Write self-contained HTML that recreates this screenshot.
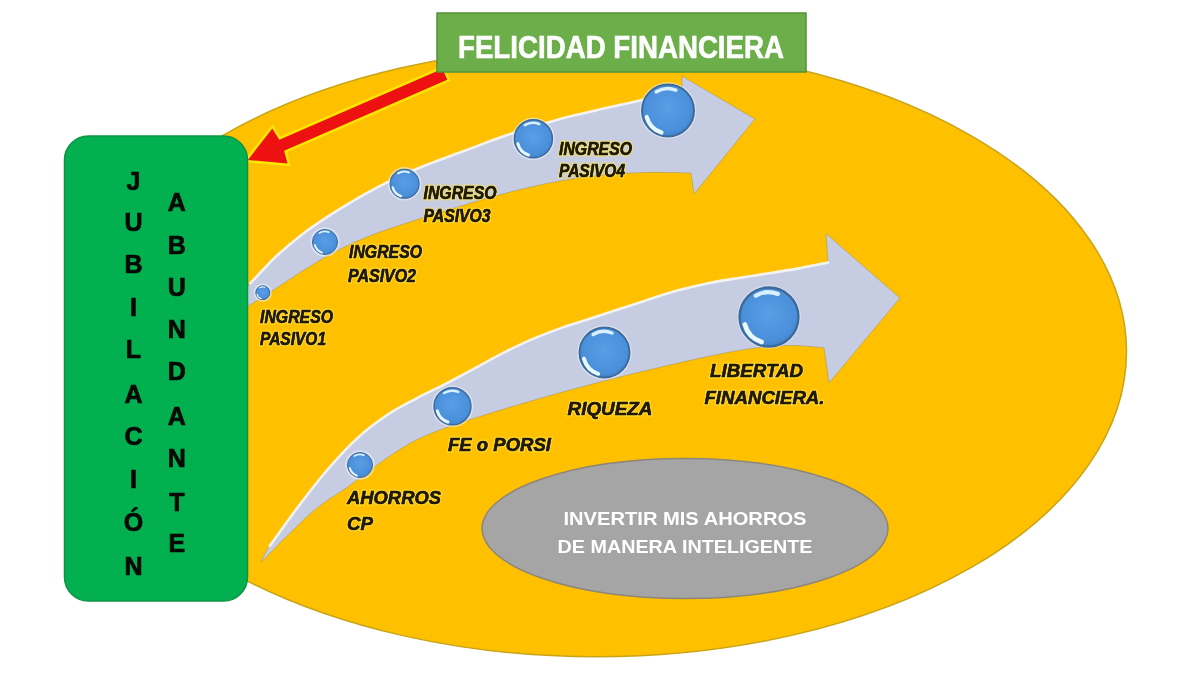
<!DOCTYPE html>
<html><head><meta charset="utf-8"><style>
html,body{margin:0;padding:0;background:#fff;width:1200px;height:681px;overflow:hidden}
svg{display:block;filter:blur(0.6px)}
text{font-family:"Liberation Sans",sans-serif}
.lab{font-weight:bold;font-style:italic;fill:#201a08;stroke:#ffe64a;stroke-width:3px;paint-order:stroke;stroke-opacity:0.6}
.lab2{font-weight:bold;font-style:italic;fill:#201a08;stroke:#201a08;stroke-width:0.5px}
.vt{font-weight:bold;font-size:25px;fill:#050805;stroke:#050805;stroke-width:0.7px;text-anchor:middle}
</style></head><body>
<svg width="1200" height="681" viewBox="0 0 1200 681">
<defs>
<radialGradient id="sph" cx="0.5" cy="0.45" r="0.6">
<stop offset="0" stop-color="#5a9ee6"/><stop offset="0.75" stop-color="#4a8fda"/><stop offset="1" stop-color="#3c7cc4"/>
</radialGradient>
</defs>
<rect width="1200" height="681" fill="#fff"/>
<ellipse cx="596.7" cy="351.6" rx="529.8" ry="305.2" fill="#ffc000" stroke="#c9a418" stroke-width="1.5"/>
<path d="M215.0,325.0 C220.9,318.1 240.2,294.7 250.3,283.4 C260.4,272.0 267.2,264.9 275.7,256.8 C284.2,248.8 292.6,241.7 301.1,235.2 C309.6,228.6 318.0,223.0 326.5,217.4 C334.9,211.9 343.4,206.6 351.9,201.6 C360.3,196.6 368.8,191.8 377.3,187.4 C385.7,182.9 394.2,178.8 402.7,174.9 C411.1,171.0 419.6,167.6 428.1,164.2 C436.5,160.9 445.0,157.9 453.5,154.8 C461.9,151.7 470.4,148.5 478.8,145.4 C487.3,142.2 495.8,139.0 504.2,136.1 C512.7,133.1 521.2,130.3 529.6,127.7 C538.1,125.1 546.6,122.7 555.0,120.4 C563.5,118.1 572.0,116.0 580.4,113.9 C588.9,111.9 597.4,109.9 605.8,108.0 C614.3,106.1 622.7,104.3 631.2,102.4 C639.7,100.5 648.1,98.7 656.6,96.8 C665.1,94.9 677.8,92.0 682.0,91.0 L682.0,76.0 L755.0,119.0 L694.0,194.0 L691.0,173.1 C686.7,173.0 673.7,172.4 665.1,172.4 C656.4,172.3 647.8,172.4 639.2,172.7 C630.5,173.0 621.9,173.4 613.2,174.1 C604.6,174.8 595.9,175.6 587.3,176.7 C578.7,177.8 570.0,179.1 561.4,180.7 C552.7,182.2 544.1,183.9 535.5,185.9 C526.8,187.8 518.2,189.9 509.5,192.2 C500.9,194.4 492.3,196.9 483.6,199.3 C475.0,201.8 466.3,204.4 457.7,207.1 C449.0,209.7 440.4,212.4 431.8,215.1 C423.1,217.8 414.5,220.4 405.8,223.3 C397.2,226.1 388.6,228.9 379.9,232.1 C371.3,235.3 362.6,238.7 354.0,242.5 C345.4,246.4 336.7,250.7 328.1,255.4 C319.4,260.2 310.8,265.7 302.1,271.2 C293.5,276.7 284.9,282.7 276.2,288.3 C267.6,293.9 260.5,298.7 250.3,304.8 C240.1,310.9 220.9,321.6 215.0,325.0 Z" fill="#c6cde2" stroke="#9a8a50" stroke-width="1" stroke-opacity="0.45"/>
<path d="M250.3,283.4 C254.5,278.9 267.2,264.9 275.7,256.8 C284.2,248.8 292.6,241.7 301.1,235.2 C309.6,228.6 318.0,223.0 326.5,217.4 C334.9,211.9 343.4,206.6 351.9,201.6 C360.3,196.6 368.8,191.8 377.3,187.4 C385.7,182.9 394.2,178.8 402.7,174.9 C411.1,171.0 419.6,167.6 428.1,164.2 C436.5,160.9 445.0,157.9 453.5,154.8 C461.9,151.7 470.4,148.5 478.8,145.4 C487.3,142.2 495.8,139.0 504.2,136.1 C512.7,133.1 521.2,130.3 529.6,127.7 C538.1,125.1 546.6,122.7 555.0,120.4 C563.5,118.1 572.0,116.0 580.4,113.9 C588.9,111.9 597.4,109.9 605.8,108.0 C614.3,106.1 622.7,104.3 631.2,102.4 C639.7,100.5 648.1,98.7 656.6,96.8 C665.1,94.9 677.8,92.0 682.0,91.0" fill="none" stroke="#f8f9fc" stroke-width="2.6" stroke-opacity="0.9" stroke-linecap="round"/>
<path d="M261.0,562.5 C262.4,559.7 263.4,555.4 269.7,545.9 C276.0,536.4 289.3,518.4 299.1,505.5 C308.9,492.6 318.7,479.8 328.5,468.5 C338.3,457.2 348.1,446.5 357.9,437.6 C367.6,428.7 377.4,421.5 387.2,415.0 C397.0,408.4 406.8,403.6 416.6,398.3 C426.4,393.1 436.2,388.7 446.0,383.6 C455.8,378.5 465.6,373.1 475.4,367.8 C485.2,362.6 495.0,357.0 504.8,352.1 C514.6,347.2 524.4,342.5 534.2,338.4 C544.0,334.2 553.7,330.6 563.5,327.1 C573.3,323.7 583.1,320.9 592.9,317.7 C602.7,314.6 612.5,311.4 622.3,308.1 C632.1,304.9 641.9,301.5 651.7,298.4 C661.5,295.3 671.3,292.2 681.1,289.6 C690.9,287.0 700.7,284.8 710.5,282.8 C720.3,280.8 730.1,279.3 739.8,277.7 C749.6,276.1 759.4,274.7 769.2,273.2 C779.0,271.6 788.8,270.2 798.6,268.4 C808.4,266.6 823.1,263.4 828.0,262.5 L826.0,233.5 L900.0,298.0 L829.0,383.0 L824.0,347.7 C818.7,347.4 802.8,345.6 792.3,345.5 C781.7,345.5 771.1,346.3 760.5,347.4 C749.9,348.5 739.4,350.3 728.8,352.2 C718.2,354.1 707.6,356.5 697.0,358.8 C686.5,361.1 675.9,363.5 665.3,366.0 C654.7,368.5 644.1,371.0 633.6,373.6 C623.0,376.2 612.4,378.9 601.8,381.6 C591.2,384.3 580.7,387.1 570.1,390.0 C559.5,392.9 548.9,395.8 538.3,398.9 C527.7,401.9 517.2,405.0 506.6,408.2 C496.0,411.4 485.4,414.7 474.8,418.1 C464.3,421.5 453.7,424.6 443.1,428.7 C432.5,432.7 421.9,436.7 411.4,442.5 C400.8,448.2 390.2,455.8 379.6,463.2 C369.0,470.6 358.5,479.2 347.9,486.8 C337.3,494.4 326.7,500.1 316.1,508.7 C305.6,517.3 293.6,529.6 284.4,538.6 C275.2,547.5 264.9,558.5 261.0,562.5 Z" fill="#c6cde2" stroke="#9a8a50" stroke-width="1" stroke-opacity="0.45"/>
<path d="M269.7,545.9 C274.6,539.2 289.3,518.4 299.1,505.5 C308.9,492.6 318.7,479.8 328.5,468.5 C338.3,457.2 348.1,446.5 357.9,437.6 C367.6,428.7 377.4,421.5 387.2,415.0 C397.0,408.4 406.8,403.6 416.6,398.3 C426.4,393.1 436.2,388.7 446.0,383.6 C455.8,378.5 465.6,373.1 475.4,367.8 C485.2,362.6 495.0,357.0 504.8,352.1 C514.6,347.2 524.4,342.5 534.2,338.4 C544.0,334.2 553.7,330.6 563.5,327.1 C573.3,323.7 583.1,320.9 592.9,317.7 C602.7,314.6 612.5,311.4 622.3,308.1 C632.1,304.9 641.9,301.5 651.7,298.4 C661.5,295.3 671.3,292.2 681.1,289.6 C690.9,287.0 700.7,284.8 710.5,282.8 C720.3,280.8 730.1,279.3 739.8,277.7 C749.6,276.1 759.4,274.7 769.2,273.2 C779.0,271.6 788.8,270.2 798.6,268.4 C808.4,266.6 823.1,263.4 828.0,262.5" fill="none" stroke="#f8f9fc" stroke-width="2.6" stroke-opacity="0.9" stroke-linecap="round"/>
<circle cx="262.8" cy="292.7" r="9.2" fill="#eef3fb" opacity="0.55"/>
<circle cx="262.8" cy="292.7" r="7" fill="url(#sph)" stroke="#3d6a98" stroke-width="1.0"/>
<path d="M259.7,287.7 A6.0,6.0 0 0 1 264.9,287.2" stroke="#d8f0ff" stroke-width="1.2" fill="none" stroke-linecap="round"/>
<path d="M257.1,294.4 A6.0,6.0 0 0 0 261.1,298.6" stroke="#e8f8ff" stroke-width="1.2" fill="none" stroke-linecap="round"/>
<circle cx="325" cy="242" r="14.7" fill="#eef3fb" opacity="0.55"/>
<circle cx="325" cy="242" r="12.5" fill="url(#sph)" stroke="#3d6a98" stroke-width="1.0"/>
<path d="M319.4,233.0 A10.6,10.6 0 0 1 328.8,232.2" stroke="#d8f0ff" stroke-width="1.8" fill="none" stroke-linecap="round"/>
<path d="M314.8,245.1 A10.8,10.8 0 0 0 321.9,252.6" stroke="#e8f8ff" stroke-width="2.0" fill="none" stroke-linecap="round"/>
<circle cx="404.6" cy="183.8" r="16.7" fill="#eef3fb" opacity="0.55"/>
<circle cx="404.6" cy="183.8" r="14.5" fill="url(#sph)" stroke="#3d6a98" stroke-width="1.1"/>
<path d="M398.1,173.4 A12.3,12.3 0 0 1 409.0,172.5" stroke="#d8f0ff" stroke-width="2.0" fill="none" stroke-linecap="round"/>
<path d="M392.7,187.4 A12.5,12.5 0 0 0 401.0,196.1" stroke="#e8f8ff" stroke-width="2.3" fill="none" stroke-linecap="round"/>
<circle cx="533.4" cy="138.8" r="21.2" fill="#eef3fb" opacity="0.55"/>
<circle cx="533.4" cy="138.8" r="19" fill="url(#sph)" stroke="#3d6a98" stroke-width="1.5"/>
<path d="M524.9,125.1 A16.1,16.1 0 0 1 539.1,124.0" stroke="#d8f0ff" stroke-width="2.7" fill="none" stroke-linecap="round"/>
<path d="M517.8,143.6 A16.3,16.3 0 0 0 528.6,155.0" stroke="#e8f8ff" stroke-width="3.0" fill="none" stroke-linecap="round"/>
<circle cx="668" cy="110.5" r="28.2" fill="#eef3fb" opacity="0.55"/>
<circle cx="668" cy="110.5" r="26" fill="url(#sph)" stroke="#3d6a98" stroke-width="2.0"/>
<path d="M656.3,91.8 A22.1,22.1 0 0 1 675.8,90.2" stroke="#d8f0ff" stroke-width="3.6" fill="none" stroke-linecap="round"/>
<path d="M646.7,117.0 A22.4,22.4 0 0 0 661.5,132.6" stroke="#e8f8ff" stroke-width="4.2" fill="none" stroke-linecap="round"/>
<circle cx="360" cy="465" r="14.7" fill="#eef3fb" opacity="0.55"/>
<circle cx="360" cy="465" r="12.5" fill="url(#sph)" stroke="#3d6a98" stroke-width="1.0"/>
<path d="M354.4,456.0 A10.6,10.6 0 0 1 363.8,455.2" stroke="#d8f0ff" stroke-width="1.8" fill="none" stroke-linecap="round"/>
<path d="M349.8,468.1 A10.8,10.8 0 0 0 356.9,475.6" stroke="#e8f8ff" stroke-width="2.0" fill="none" stroke-linecap="round"/>
<circle cx="452.5" cy="406.3" r="20.7" fill="#eef3fb" opacity="0.55"/>
<circle cx="452.5" cy="406.3" r="18.5" fill="url(#sph)" stroke="#3d6a98" stroke-width="1.4"/>
<path d="M444.2,393.0 A15.7,15.7 0 0 1 458.1,391.9" stroke="#d8f0ff" stroke-width="2.6" fill="none" stroke-linecap="round"/>
<path d="M437.3,410.9 A15.9,15.9 0 0 0 447.9,422.0" stroke="#e8f8ff" stroke-width="3.0" fill="none" stroke-linecap="round"/>
<circle cx="604.5" cy="352.5" r="27.2" fill="#eef3fb" opacity="0.55"/>
<circle cx="604.5" cy="352.5" r="25" fill="url(#sph)" stroke="#3d6a98" stroke-width="1.9"/>
<path d="M593.2,334.5 A21.2,21.2 0 0 1 612.0,333.0" stroke="#d8f0ff" stroke-width="3.5" fill="none" stroke-linecap="round"/>
<path d="M584.0,358.8 A21.5,21.5 0 0 0 598.2,373.8" stroke="#e8f8ff" stroke-width="4.0" fill="none" stroke-linecap="round"/>
<circle cx="769" cy="317" r="31.7" fill="#eef3fb" opacity="0.55"/>
<circle cx="769" cy="317" r="29.5" fill="url(#sph)" stroke="#3d6a98" stroke-width="2.3"/>
<path d="M755.7,295.8 A25.1,25.1 0 0 1 777.9,294.0" stroke="#d8f0ff" stroke-width="4.1" fill="none" stroke-linecap="round"/>
<path d="M744.8,324.4 A25.4,25.4 0 0 0 761.6,342.1" stroke="#e8f8ff" stroke-width="4.7" fill="none" stroke-linecap="round"/>

<ellipse cx="685" cy="528.5" rx="203" ry="70" fill="#a5a5a6" stroke="#8c8678" stroke-width="1.5"/>
<text x="685" y="525" text-anchor="middle" font-size="19" font-weight="bold" fill="#fff" textLength="243" lengthAdjust="spacingAndGlyphs">INVERTIR MIS AHORROS</text>
<text x="685" y="553" text-anchor="middle" font-size="19" font-weight="bold" fill="#fff" textLength="255" lengthAdjust="spacingAndGlyphs">DE MANERA INTELIGENTE</text>
<path d="M247.8,160.0 L272.3,128.6 L279.3,139.7 L442.5,68.7 L447.3,79.7 L284.1,150.7 L287.5,163.5 Z" fill="#ee1111" stroke="#ffe600" stroke-width="5" stroke-linejoin="miter" paint-order="stroke"/>
<rect x="437" y="13" width="369" height="59" fill="#6cae49" stroke="#54903a" stroke-width="1.5"/>
<text x="621" y="57.5" text-anchor="middle" font-size="32" font-weight="bold" fill="#fff" textLength="326" lengthAdjust="spacingAndGlyphs" style="stroke:#fff;stroke-width:0.6px">FELICIDAD FINANCIERA</text>
<rect x="64.5" y="136" width="183" height="465" rx="24" ry="24" fill="#02b050" stroke="#0c9444" stroke-width="1.5"/>
<text x="133.5" y="189.8" class="vt">J</text>
<text x="133.5" y="230.6" class="vt">U</text>
<text x="133.5" y="273.4" class="vt">B</text>
<text x="133.5" y="315.5" class="vt">I</text>
<text x="133.5" y="358.2" class="vt">L</text>
<text x="133.5" y="402.6" class="vt">A</text>
<text x="133.5" y="445.2" class="vt">C</text>
<text x="133.5" y="487.6" class="vt">I</text>
<text x="133.5" y="530.9" class="vt">Ó</text>
<text x="133.5" y="574.6" class="vt">N</text>
<text x="176.8" y="210.9" class="vt">A</text>
<text x="176.8" y="254.1" class="vt">B</text>
<text x="176.8" y="296.1" class="vt">U</text>
<text x="176.8" y="337.9" class="vt">N</text>
<text x="176.8" y="380.3" class="vt">D</text>
<text x="176.8" y="425.4" class="vt">A</text>
<text x="176.8" y="466.6" class="vt">N</text>
<text x="176.8" y="510.6" class="vt">T</text>
<text x="176.8" y="551.7" class="vt">E</text>
<text x="260" y="323" class="lab" font-size="18" textLength="73" lengthAdjust="spacingAndGlyphs">INGRESO</text>
<text x="260" y="323" class="lab2" font-size="18" textLength="73" lengthAdjust="spacingAndGlyphs">INGRESO</text>
<text x="260" y="345" class="lab" font-size="18" textLength="66" lengthAdjust="spacingAndGlyphs">PASIVO1</text>
<text x="260" y="345" class="lab2" font-size="18" textLength="66" lengthAdjust="spacingAndGlyphs">PASIVO1</text>
<text x="349" y="258" class="lab" font-size="18" textLength="73" lengthAdjust="spacingAndGlyphs">INGRESO</text>
<text x="349" y="258" class="lab2" font-size="18" textLength="73" lengthAdjust="spacingAndGlyphs">INGRESO</text>
<text x="348" y="281.5" class="lab" font-size="18" textLength="68" lengthAdjust="spacingAndGlyphs">PASIVO2</text>
<text x="348" y="281.5" class="lab2" font-size="18" textLength="68" lengthAdjust="spacingAndGlyphs">PASIVO2</text>
<text x="423.5" y="199" class="lab" font-size="18" textLength="73" lengthAdjust="spacingAndGlyphs">INGRESO</text>
<text x="423.5" y="199" class="lab2" font-size="18" textLength="73" lengthAdjust="spacingAndGlyphs">INGRESO</text>
<text x="423.5" y="222" class="lab" font-size="18" textLength="67" lengthAdjust="spacingAndGlyphs">PASIVO3</text>
<text x="423.5" y="222" class="lab2" font-size="18" textLength="67" lengthAdjust="spacingAndGlyphs">PASIVO3</text>
<text x="559" y="155" class="lab" font-size="18" textLength="73" lengthAdjust="spacingAndGlyphs">INGRESO</text>
<text x="559" y="155" class="lab2" font-size="18" textLength="73" lengthAdjust="spacingAndGlyphs">INGRESO</text>
<text x="559" y="177" class="lab" font-size="18" textLength="66" lengthAdjust="spacingAndGlyphs">PASIVO4</text>
<text x="559" y="177" class="lab2" font-size="18" textLength="66" lengthAdjust="spacingAndGlyphs">PASIVO4</text>
<text x="347" y="504" class="lab" font-size="19" textLength="94" lengthAdjust="spacingAndGlyphs">AHORROS</text>
<text x="347" y="504" class="lab2" font-size="19" textLength="94" lengthAdjust="spacingAndGlyphs">AHORROS</text>
<text x="347" y="530" class="lab" font-size="19" textLength="26" lengthAdjust="spacingAndGlyphs">CP</text>
<text x="347" y="530" class="lab2" font-size="19" textLength="26" lengthAdjust="spacingAndGlyphs">CP</text>
<text x="448" y="451" class="lab" font-size="19" textLength="103" lengthAdjust="spacingAndGlyphs">FE o PORSI</text>
<text x="448" y="451" class="lab2" font-size="19" textLength="103" lengthAdjust="spacingAndGlyphs">FE o PORSI</text>
<text x="567.5" y="414.5" class="lab" font-size="19" textLength="85" lengthAdjust="spacingAndGlyphs">RIQUEZA</text>
<text x="567.5" y="414.5" class="lab2" font-size="19" textLength="85" lengthAdjust="spacingAndGlyphs">RIQUEZA</text>
<text x="710" y="377" class="lab" font-size="19" textLength="93" lengthAdjust="spacingAndGlyphs">LIBERTAD</text>
<text x="710" y="377" class="lab2" font-size="19" textLength="93" lengthAdjust="spacingAndGlyphs">LIBERTAD</text>
<text x="704.5" y="403.5" class="lab" font-size="19" textLength="120" lengthAdjust="spacingAndGlyphs">FINANCIERA.</text>
<text x="704.5" y="403.5" class="lab2" font-size="19" textLength="120" lengthAdjust="spacingAndGlyphs">FINANCIERA.</text>
</svg></body></html>
